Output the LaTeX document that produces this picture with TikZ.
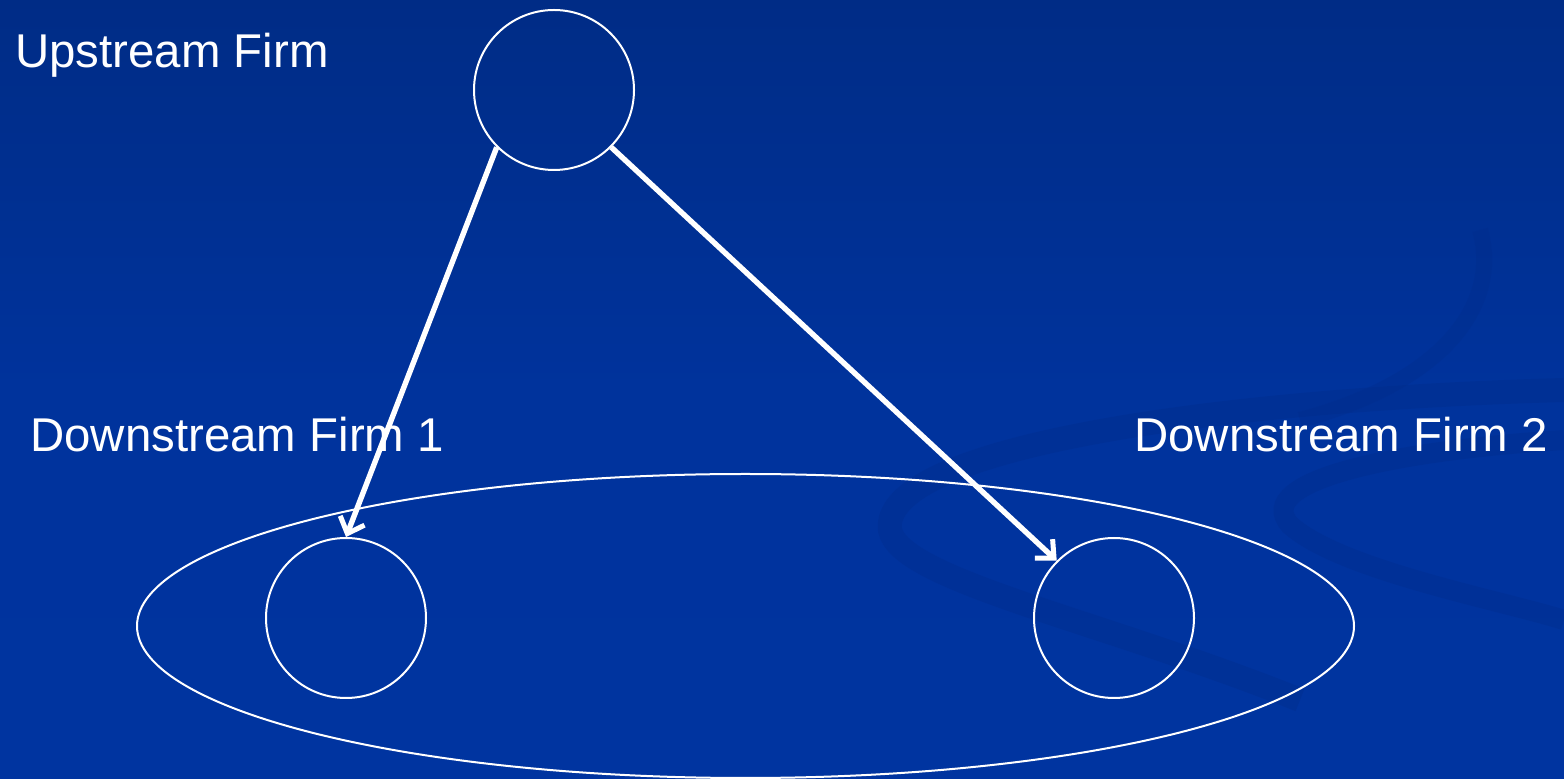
\documentclass[tikz,border=0pt]{standalone}
\usepackage{fontspec}
\setmainfont{Liberation Sans}
\usetikzlibrary{arrows.meta,shapes.geometric}
\definecolor{slidetop}{RGB}{0,44,134}
\definecolor{slidebot}{RGB}{0,52,160}
\definecolor{swirl}{RGB}{0,44,138}
\tikzset{
  firm/.style={circle, draw=white, line width=1pt, minimum size=80pt, inner sep=0pt},
  firmtext/.style={white, anchor=base west, inner sep=0pt, font=\fontsize{23.7}{28}\selectfont},
  link/.style={white, line width=2.7pt, -{Straight Barb[length=7pt,width=13pt,line width=2.5pt]}}
}
\begin{document}
\begin{tikzpicture}[x=0.5pt,y=-0.5pt]
    \useasboundingbox (0,0) rectangle (1564,779);
    \shade[top color=slidetop, bottom color=slidebot, middle color=slidebot!85!slidetop] (0,0) rectangle (1564,779);
    % faint swirl in the background
    \draw[swirl, line width=12pt, opacity=.35] (1564,390) .. controls (1200,400) and (880,450) .. (890,530) .. controls (900,580) and (1100,620) .. (1300,700);
    \draw[swirl, line width=10pt, opacity=.35] (1564,440) .. controls (1400,450) and (1250,480) .. (1290,525) .. controls (1340,570) and (1500,600) .. (1564,620);
    \draw[swirl, line width=8pt, opacity=.3] (1480,230) .. controls (1500,300) and (1450,380) .. (1300,420);
    \node[ellipse, draw=white, line width=1pt, minimum width=608.5pt, minimum height=152pt, inner sep=0pt] (market) at (745.5,626) {};
    \node[firm] (up) at (554,90) {};
    \node[firm] (d1) at (346,618) {};
    \node[firm] (d2) at (1114,618) {};
    \node[firmtext] (uplabel) at (15,68) {Upstream Firm};
    \node[firmtext] (d1label) at (30,452) {Downstream Firm 1};
    \node[firmtext] (d2label) at (1134,452) {Downstream Firm 2};
    \draw[link] (up.225) -- (d1.90);
    \draw[link] (up.-45) -- (d2.135);
\end{tikzpicture}
\end{document}
